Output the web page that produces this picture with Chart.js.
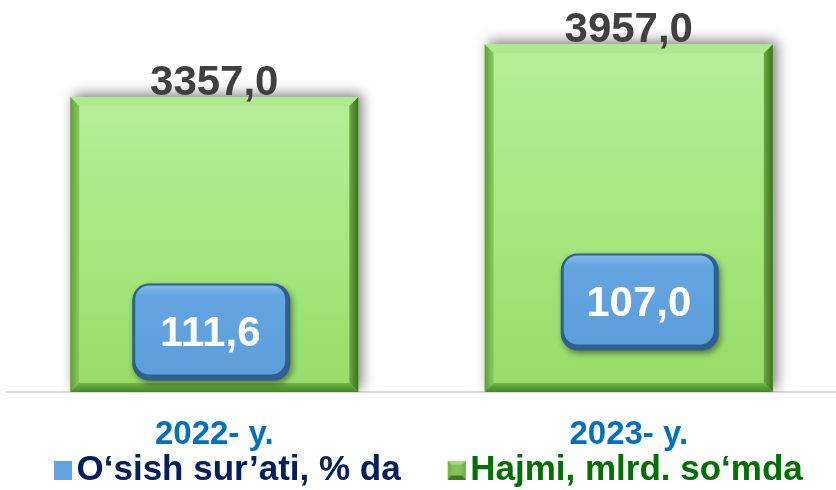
<!DOCTYPE html>
<html>
<head>
<meta charset="utf-8">
<script src="https://cdn.jsdelivr.net/npm/chart.js@4.4.1/dist/chart.umd.min.js"></script>
<style>
  html, body { margin: 0; padding: 0; background: #fff; }
  #wrap { width: 836px; height: 490px; position: relative; }
</style>
</head>
<body>
<div id="wrap"><canvas id="volumeChart"></canvas></div>
<script>
// chart data
const years = ['2022- y.', '2023- y.'];
const growthRate = [111.6, 107.0];     // O'sish sur'ati, % da
const volume = [3357.0, 3957.0];       // Hajmi, mlrd. so'mda
const seriesNames = ['O\u2018sish sur\u2019ati, % da', 'Hajmi, mlrd. so\u2018mda'];

const FONT = '"Liberation Sans", Arial, sans-serif';
const fmt = v => v.toFixed(1).replace('.', ',');

// where the blue label boxes sit inside the green bars (dx, lift above base)
const boxPlace = [[-3, 60], [11, 90]];

// legend markers: wide transparent canvas, marker drawn at its right end
const MARK_W = 52;
function makeMarker(kind) {
  const c = document.createElement('canvas');
  c.width = 78; c.height = 19;
  const g = c.getContext('2d');
  g.translate(60, 0);
  if (kind === 'blue') {
    g.fillStyle = '#62a3df';
    g.fillRect(0, 0, 18, 19);
  } else {
    g.fillStyle = '#77b64a'; g.fillRect(0, 0, 18, 19);
    g.fillStyle = '#a6dc80';
    g.beginPath(); g.moveTo(0, 0); g.lineTo(18, 0); g.lineTo(9, 9.5); g.closePath(); g.fill();
    g.fillStyle = '#3f7a22';
    g.beginPath(); g.moveTo(0, 19); g.lineTo(18, 19); g.lineTo(9, 9.5); g.closePath(); g.fill();
    g.fillStyle = '#86c45a';
    g.fillRect(4, 4, 10, 11);
  }
  return c;
}
const markers = [makeMarker('blue'), makeMarker('green')];
const legendText = ['#002060', '#007000'];

function roundRect(ctx, x, y, w, h, r) {
  ctx.beginPath();
  ctx.moveTo(x + r, y);
  ctx.arcTo(x + w, y, x + w, y + h, r);
  ctx.arcTo(x + w, y + h, x, y + h, r);
  ctx.arcTo(x, y + h, x, y, r);
  ctx.arcTo(x, y, x + w, y, r);
  ctx.closePath();
}

// shadow + bevel for the green bars, value labels on top, blue rate boxes
const barDecor = {
  id: 'barDecor',
  beforeDatasetDraw(chart, args) {
    if (args.index !== 1) return;
    const ctx = chart.ctx;
    ctx.save();
    ctx.shadowColor = 'rgba(0,0,0,0.5)';
    ctx.shadowBlur = 12;
    ctx.shadowOffsetX = 4;
    ctx.shadowOffsetY = -3;
  },
  afterDatasetDraw(chart, args) {
    if (args.index !== 1) return;
    const ctx = chart.ctx;
    ctx.restore();
    const b = 9;
    chart.getDatasetMeta(1).data.forEach(el => {
      const p = el.getProps(['x', 'y', 'base', 'width'], true);
      const l = p.x - p.width / 2, r = p.x + p.width / 2, t = p.y, B = p.base;
      ctx.save();
      // top
      ctx.fillStyle = '#aee88f';
      ctx.beginPath(); ctx.moveTo(l, t); ctx.lineTo(r, t); ctx.lineTo(r - b, t + b); ctx.lineTo(l + b, t + b); ctx.closePath(); ctx.fill();
      // left
      let lg = ctx.createLinearGradient(l, 0, l + b, 0);
      lg.addColorStop(0, '#5f9f3a'); lg.addColorStop(1, '#88cc5e');
      ctx.fillStyle = lg;
      ctx.beginPath(); ctx.moveTo(l, t); ctx.lineTo(l + b, t + b); ctx.lineTo(l + b, B - b); ctx.lineTo(l, B); ctx.closePath(); ctx.fill();
      // right
      let rg = ctx.createLinearGradient(r - b, 0, r, 0);
      rg.addColorStop(0, '#6aa942'); rg.addColorStop(1, '#3a7220');
      ctx.fillStyle = rg;
      ctx.beginPath(); ctx.moveTo(r, t); ctx.lineTo(r - b, t + b); ctx.lineTo(r - b, B - b); ctx.lineTo(r, B); ctx.closePath(); ctx.fill();
      // bottom
      let bg = ctx.createLinearGradient(0, B - b, 0, B);
      bg.addColorStop(0, '#74b449'); bg.addColorStop(1, '#46842a');
      ctx.fillStyle = bg;
      ctx.beginPath(); ctx.moveTo(l, B); ctx.lineTo(r, B); ctx.lineTo(r - b, B - b); ctx.lineTo(l + b, B - b); ctx.closePath(); ctx.fill();
      ctx.restore();
    });
  },
  afterDatasetsDraw(chart) {
    const ctx = chart.ctx;
    // value labels above green bars
    const green = chart.getDatasetMeta(1);
    ctx.save();
    ctx.font = 'bold 42px ' + FONT;
    ctx.fillStyle = '#404040';
    ctx.textAlign = 'center';
    ctx.textBaseline = 'alphabetic';
    green.data.forEach((el, i) => {
      ctx.fillText(fmt(chart.data.datasets[1].data[i]), el.x, el.y - 2);
    });
    ctx.restore();

    // blue growth-rate boxes
    const blue = chart.getDatasetMeta(0);
    const w = 158, h = 97;
    blue.data.forEach((el, i) => {
      const base = green.data[i].base;
      const cx = el.x + boxPlace[i][0];
      const cy = base - boxPlace[i][1];
      const x = cx - w / 2, y = cy - h / 2;
      ctx.save();
      ctx.shadowColor = 'rgba(0,0,0,0.45)';
      ctx.shadowBlur = 6;
      ctx.shadowOffsetX = 2;
      ctx.shadowOffsetY = 3;
      ctx.fillStyle = '#2f5f8f';
      roundRect(ctx, x, y, w, h, 17);
      ctx.fill();
      ctx.restore();
      ctx.save();
      const ig = ctx.createLinearGradient(0, y, 0, y + h);
      ig.addColorStop(0, '#8cc0ee');
      ig.addColorStop(0.12, '#64a5e0');
      ig.addColorStop(1, '#5c9edb');
      ctx.fillStyle = ig;
      roundRect(ctx, x + 3, y + 2, w - 8, h - 8, 14);
      ctx.fill();
      ctx.font = 'bold 42px ' + FONT;
      ctx.fillStyle = '#ffffff';
      ctx.textAlign = 'center';
      ctx.textBaseline = 'middle';
      ctx.fillText(fmt(chart.data.datasets[0].data[i]), cx - 1, cy + 2);
      ctx.restore();
    });
  }
};

const ctx = document.getElementById('volumeChart').getContext('2d');

const volumeChart = new Chart(ctx, {
  type: 'bar',
  data: {
    labels: years,
    datasets: [{
      label: seriesNames[0],
      data: growthRate,
      yAxisID: 'yRate',
      backgroundColor: '#62a3df',
      borderWidth: 0,
      grouped: false,
      barPercentage: 0.01,
      order: 2
    }, {
      label: seriesNames[1],
      data: volume,
      yAxisID: 'y',
      borderWidth: 0,
      grouped: false,
      categoryPercentage: 1,
      barPercentage: 0.695,
      order: 1,
      backgroundColor: function (c) {
        const chart = c.chart;
        if (!chart.chartArea || c.raw === undefined) return '#a3e476';
        const top = chart.scales.y.getPixelForValue(c.raw);
        const bottom = chart.scales.y.getPixelForValue(0);
        const g = chart.ctx.createLinearGradient(0, top, 0, bottom);
        g.addColorStop(0, '#b6ee98');
        g.addColorStop(0.5, '#a6e880');
        g.addColorStop(1, '#97dc68');
        return g;
      }
    }]
  },
  options: {
    responsive: true,
    maintainAspectRatio: false,
    animation: false,
    layout: {
      padding: { left: 7, right: -11, top: 0, bottom: -7.5 }
    },
    scales: {
      x: {
        grid: { drawOnChartArea: false, drawTicks: false },
        border: { display: true, color: '#d9d9d9', width: 2 },
        ticks: {
          color: '#0070c0',
          font: { family: FONT, size: 33, weight: 'bold' },
          padding: 23
        },
        afterFit: function (scale) { scale.height = 60.5; }
      },
      y: {
        display: false,
        min: 0,
        max: 4460
      },
      yRate: {
        display: false,
        min: 0,
        max: 100000
      }
    },
    plugins: {
      tooltip: { enabled: false },
      legend: {
        position: 'bottom',
        align: 'start',
        labels: {
          usePointStyle: true,
          pointStyleWidth: MARK_W,
          boxHeight: 19,
          padding: 0,
          font: { family: FONT, size: 35, weight: 'bold' },
          generateLabels: function (chart) {
            return chart.data.datasets.map((ds, i) => ({
              text: ds.label,
              pointStyle: markers[i],
              fillStyle: 'transparent',
              strokeStyle: 'transparent',
              lineWidth: 0,
              fontColor: legendText[i],
              hidden: false,
              datasetIndex: i
            }));
          }
        }
      }
    }
  },
  plugins: [barDecor]
});
</script>
</body>
</html>
